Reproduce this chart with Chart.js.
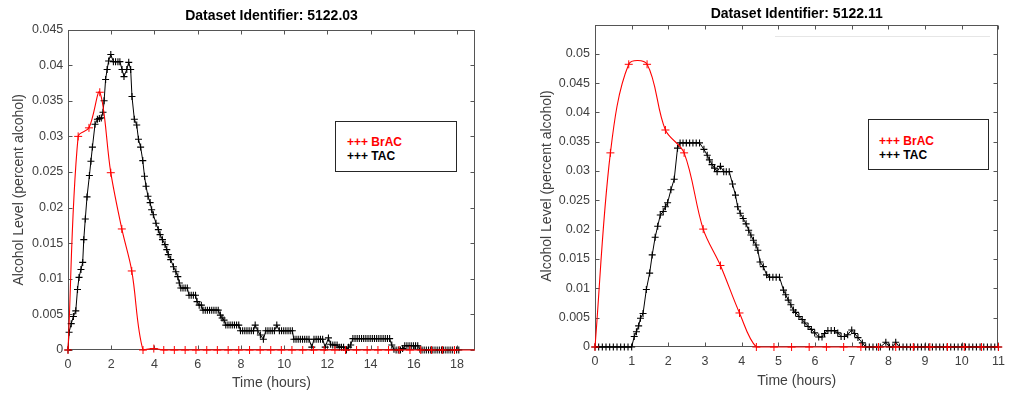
<!DOCTYPE html>
<html><head><meta charset="utf-8">
<script src="https://cdn.jsdelivr.net/npm/chart.js@4/dist/chart.umd.min.js"></script>
<style>
html,body{margin:0;padding:0;background:#fff;}
#wrap{position:relative;width:1012px;height:397px;overflow:hidden;font-family:"Liberation Sans",Arial,sans-serif;}
canvas{position:absolute;top:0;}
#c1{left:0}
#c2{left:506px}
.leg{position:absolute;background:#fff;border:1px solid #262626;box-sizing:border-box;font-weight:bold;font-size:12px;}
.leg div{position:absolute;line-height:14px;white-space:nowrap;}
.faint{position:absolute;left:775px;top:36px;width:215px;height:1px;background:#e6e6e6;}
</style></head>
<body><div id="wrap">
<canvas id="c1" width="506" height="397"></canvas>
<canvas id="c2" width="506" height="397"></canvas>
<div class="faint"></div>
<div class="leg" style="left:335px;top:121px;width:122px;height:51px">
<div style="left:11px;top:13px;color:#ff0000">+++ BrAC</div>
<div style="left:11px;top:27px;color:#000">+++ TAC</div>
</div>
<div class="leg" style="left:868px;top:119px;width:121px;height:51px">
<div style="left:10px;top:14px;color:#ff0000">+++ BrAC</div>
<div style="left:10px;top:28px;color:#000">+++ TAC</div>
</div>
</div>
<script>
// ---------- DATA ----------
const title1 = 'Dataset Identifier: 5122.03';
const title2 = 'Dataset Identifier: 5122.11';
const xLabel = 'Time (hours)';
const yLabel = 'Alcohol Level (percent alcohol)';
const legendNames = ['+++ BrAC', '+++ TAC'];

const xTicks1 = [0,2,4,6,8,10,12,14,16,18];
const yTicks1 = [0,0.005,0.01,0.015,0.02,0.025,0.03,0.035,0.04,0.045];
const xTicks2 = [0,1,2,3,4,5,6,7,8,9,10,11];
const yTicks2 = [0,0.005,0.01,0.015,0.02,0.025,0.03,0.035,0.04,0.045,0.05];

// [time (h), alcohol level]
const bracLeft = [[0,0],[0.47,0.030],[0.97,0.0312],[1.47,0.0362],[1.98,0.0249],[2.49,0.0170],[2.95,0.0111],[3.47,0],[3.97,0.0002],
 [4.43,0],[4.92,0],[5.42,0],[5.92,0],[6.42,0],[6.91,0],[7.41,0],[7.90,0],[8.40,0],[8.89,0],[9.38,0],[9.87,0],[10.36,0],[10.86,0],
 [11.36,0],[11.85,0],[12.35,0],[12.84,0],[13.35,0],[13.84,0],[14.34,0],[14.83,0],[15.32,0],[15.82,0],[16.32,0],[16.82,0],[17.32,0],[17.88,0],[18.83,0]];

const tacLeft = [[0,0],[0.05,0.0025],[0.15,0.0037],[0.25,0.0047],[0.36,0.0055],[0.44,0.0085],[0.51,0.0102],[0.60,0.0113],[0.68,0.0123],
 [0.73,0.0155],[0.80,0.0184],[0.88,0.0215],[0.99,0.0245],[1.06,0.0265],[1.13,0.0285],[1.25,0.0317],[1.36,0.0324],[1.45,0.0325],
 [1.54,0.0326],[1.62,0.0334],[1.67,0.0350],[1.74,0.0380],[1.81,0.0394],[1.88,0.0406],[1.98,0.0415],[2.10,0.0405],[2.20,0.0405],
 [2.31,0.0405],[2.40,0.0405],[2.50,0.0394],[2.59,0.0384],[2.72,0.0394],[2.81,0.0404],[2.90,0.0394],[2.96,0.0356],[3.07,0.0324],
 [3.18,0.0316],[3.26,0.0296],[3.36,0.0285],[3.46,0.0266],[3.54,0.0244],[3.61,0.0230],[3.70,0.0216],[3.80,0.0207],[3.87,0.0197],
 [3.95,0.0190],[4.07,0.0178],[4.18,0.0169],[4.26,0.0162],[4.37,0.0155],[4.49,0.0148],[4.57,0.0141],[4.64,0.0134],[4.75,0.0127],
 [4.88,0.0117],[4.99,0.0110],[5.08,0.0103],[5.15,0.0094],[5.22,0.0087],[5.32,0.0087],[5.42,0.0087],[5.52,0.0087],[5.60,0.0077],
 [5.70,0.0077],[5.80,0.0077],[5.90,0.0077],[5.97,0.0068],[6.07,0.0063],[6.17,0.0063],[6.25,0.0056],[6.35,0.0056],[6.45,0.0056],
 [6.55,0.0056],[6.65,0.0056],[6.75,0.0056],[6.85,0.0056],[6.95,0.0056],[7.05,0.0049],[7.13,0.0045],[7.22,0.0042],[7.30,0.0035],
 [7.40,0.0035],[7.50,0.0035],[7.60,0.0035],[7.70,0.0035],[7.80,0.0035],[7.90,0.0035],[7.98,0.0027],[8.08,0.0027],[8.18,0.0027],
 [8.28,0.0027],[8.38,0.0027],[8.48,0.0027],[8.58,0.0027],[8.66,0.0035],[8.78,0.0027],[8.90,0.0021],[9.04,0.0015],[9.15,0.0027],
 [9.25,0.0027],[9.35,0.0027],[9.45,0.0027],[9.55,0.0027],[9.66,0.0035],[9.78,0.0027],[9.88,0.0027],[9.98,0.0027],[10.08,0.0027],
 [10.18,0.0027],[10.28,0.0027],[10.38,0.0027],[10.45,0.0015],[10.55,0.0015],[10.65,0.0015],[10.75,0.0015],[10.85,0.0015],
 [10.95,0.0015],[11.05,0.0015],[11.15,0.0015],[11.28,0.0004],[11.38,0.0015],[11.48,0.0015],[11.58,0.0015],[11.68,0.0015],
 [11.78,0.0015],[11.90,0.0004],[12.05,0.0017],[12.15,0.0008],[12.25,0.0007],[12.35,0.0007],[12.45,0.0007],[12.55,0.0004],
 [12.65,0.0004],[12.75,0.0004],[12.88,0],[12.98,0.0004],[13.08,0.0007],[13.18,0.0016],[13.28,0.0016],[13.38,0.0016],[13.48,0.0016],
 [13.58,0.0016],[13.68,0.0016],[13.78,0.0016],[13.88,0.0016],[13.98,0.0016],[14.08,0.0016],[14.18,0.0016],[14.28,0.0016],
 [14.38,0.0016],[14.48,0.0016],[14.58,0.0016],[14.68,0.0016],[14.78,0.0016],[14.88,0.0016],[14.98,0.0007],[15.08,0.0001],
 [15.18,0],[15.28,0],[15.38,0],[15.48,0.0002],[15.58,0.0006],[15.68,0.0006],[15.78,0.0006],[15.88,0.0006],[15.98,0.0006],
 [16.08,0.0006],[16.18,0.0006],[16.28,0.0001],[16.38,0],[16.48,0],[16.58,0],[16.68,0],[16.78,0],[16.88,0],[16.98,0],[17.08,0],
 [17.18,0],[17.28,0],[17.38,0],[17.48,0],[17.58,0],[17.68,0],[17.78,0],[17.88,0],[17.98,0],[18.08,0]];

const bracRight = [[0,0],[0.42,0.0331],[0.92,0.0482],[1.42,0.0482],[1.92,0.0370],[2.43,0.0331],[2.95,0.0201],[3.42,0.0139],
 [3.94,0.0058],[4.40,0],[4.88,0],[5.36,0],[5.84,0],[6.31,0],[6.78,0],[7.25,0],[7.73,0],[8.20,0],[8.68,0],[9.13,0],[9.61,0],
 [10.07,0],[10.54,0],[11.0,0]];

const tacRight = [[0,0],[0.1,0],[0.2,0],[0.3,0],[0.4,0],[0.5,0],[0.6,0],[0.7,0],[0.8,0],[0.9,0],[1.0,0],
 [1.07,0.0018],[1.13,0.0026],[1.19,0.0036],[1.24,0.0049],[1.31,0.0057],[1.40,0.0098],[1.49,0.0126],[1.56,0.0157],[1.64,0.0187],
 [1.71,0.0206],[1.78,0.0225],[1.86,0.0231],[1.92,0.0239],[1.98,0.0246],[2.07,0.0268],[2.16,0.0286],[2.25,0.0339],[2.32,0.0348],
 [2.40,0.0348],[2.49,0.0348],[2.58,0.0348],[2.67,0.0348],[2.76,0.0348],[2.85,0.0348],[2.97,0.0337],[3.06,0.0327],[3.12,0.0319],
 [3.19,0.0311],[3.26,0.0305],[3.33,0.0299],[3.42,0.0308],[3.51,0.0299],[3.58,0.0299],[3.66,0.0299],[3.75,0.0278],[3.83,0.0259],
 [3.89,0.0239],[3.96,0.0228],[4.04,0.0219],[4.12,0.0210],[4.19,0.0199],[4.25,0.0191],[4.32,0.0182],[4.39,0.0174],[4.44,0.0165],
 [4.50,0.0145],[4.59,0.0137],[4.68,0.0123],[4.76,0.0119],[4.85,0.0119],[4.94,0.0119],[5.03,0.0119],[5.14,0.0097],[5.20,0.0089],
 [5.27,0.0080],[5.34,0.0072],[5.41,0.0063],[5.47,0.0059],[5.56,0.0052],[5.65,0.0047],[5.72,0.0041],[5.81,0.0035],[5.90,0.0030],
 [5.99,0.0024],[6.10,0.0017],[6.19,0.0017],[6.26,0.0023],[6.35,0.0028],[6.44,0.0028],[6.53,0.0028],[6.62,0.0024],[6.71,0.0018],
 [6.80,0.0018],[6.89,0.0021],[7.00,0.0029],[7.08,0.0023],[7.17,0.0016],[7.29,0.0007],[7.38,0],[7.48,0],[7.58,0],[7.68,0],[7.78,0],
 [7.93,0.0008],[8.03,0],[8.12,0],[8.20,0.0008],[8.30,0],[8.40,0],[8.50,0],[8.60,0],[8.70,0],[8.80,0],[8.90,0],[9.00,0],[9.10,0],
 [9.20,0],[9.30,0],[9.40,0],[9.50,0],[9.60,0],[9.70,0],[9.80,0],[9.90,0],[10.00,0],[10.10,0],[10.20,0],[10.30,0],[10.40,0],
 [10.50,0],[10.60,0],[10.70,0],[10.80,0],[10.90,0],[11.00,0]];

// ---------- CHARTS ----------
Chart.defaults.font.family = '"Liberation Sans", Arial, Helvetica, sans-serif';
const fmt = v => String(+Number(v).toFixed(4));
const AX = '#404040';

const frame = {
  id: 'frame',
  beforeDatasetsDraw(chart) {
    const {ctx, chartArea: a, scales: {x, y}} = chart;
    ctx.save();
    ctx.strokeStyle = '#555';
    ctx.lineWidth = 1;
    const L = Math.round(a.left) + 0.5, R = Math.round(a.right) - 0.5;
    const T = Math.round(a.top) + 0.5, B = Math.round(a.bottom) - 0.5;
    ctx.strokeRect(L, T, R - L, B - T);
    const tl = 4;
    ctx.beginPath();
    x.ticks.forEach(t => {
      const px = Math.round(x.getPixelForValue(t.value)) + 0.5;
      ctx.moveTo(px, B); ctx.lineTo(px, B - tl);
      ctx.moveTo(px, T); ctx.lineTo(px, T + tl);
    });
    y.ticks.forEach(t => {
      const py = Math.round(y.getPixelForValue(t.value)) + 0.5;
      ctx.moveTo(L, py); ctx.lineTo(L + tl, py);
      ctx.moveTo(R, py); ctx.lineTo(R - tl, py);
    });
    ctx.stroke();
    ctx.restore();
  }
};

function makeChart(id, o) {
  const toXY = arr => arr.map(p => ({x: p[0], y: p[1]}));
  const nb = o.brac.length;
  return new Chart(document.getElementById(id), {
    type: 'line',
    data: {
      datasets: [
        {
          label: legendNames[0], data: toXY(o.brac),
          borderColor: '#ff0000', borderWidth: 1.1, tension: 0.35,
          pointStyle: 'cross', pointBorderColor: '#ff0000', pointBorderWidth: 1,
          pointRadius: ctx => (o.hideLastBrac && ctx.dataIndex === nb - 1) ? 0 : 4,
          fill: false, clip: 6
        },
        {
          label: legendNames[1], data: toXY(o.tac),
          borderColor: '#000', borderWidth: 1, tension: 0,
          pointStyle: 'cross', pointBorderColor: '#000', pointBorderWidth: 1.1, pointRadius: 3.5,
          fill: false, clip: 6
        }
      ]
    },
    options: {
      responsive: false, animation: false, events: [],
      devicePixelRatio: 1,
      layout: {padding: {left: 0, right: o.padR, top: 0, bottom: 0}},
      plugins: {
        legend: {display: false}, tooltip: {enabled: false},
        title: {display: true, text: o.title, fullSize: false, color: '#000',
          font: {size: 14, weight: 'bold'}, padding: {top: o.tTop, bottom: o.tBot}}
      },
      scales: {
        x: {
          type: 'linear', min: 0, max: o.xMax,
          afterBuildTicks: s => { s.ticks = o.xt.map(v => ({value: v})); },
          afterFit: s => { s.height = o.xH; },
          grid: {display: false, drawTicks: false}, border: {display: false},
          ticks: {autoSkip: false, maxRotation: 0, minRotation: 0, padding: o.xPad, color: AX,
            font: {size: 12.5}, callback: fmt},
          title: {display: true, text: xLabel, color: AX, font: {size: 14}, padding: {top: 0, bottom: o.xTB}}
        },
        y: {
          type: 'linear', min: 0, max: o.yMax,
          afterBuildTicks: s => { s.ticks = o.yt.map(v => ({value: v})); },
          afterFit: s => { s.width = o.yW; },
          grid: {display: false, drawTicks: false}, border: {display: false},
          ticks: {autoSkip: false, padding: o.yPad, color: AX, font: {size: 12.5}, callback: fmt},
          title: {display: true, text: yLabel, color: AX, font: {size: 14}, padding: {top: o.yTT, bottom: 0}}
        }
      }
    },
    plugins: [frame]
  });
}

makeChart('c1', {
  title: title1, brac: bracLeft, tac: tacLeft, hideLastBrac: true,
  xt: xTicks1, yt: yTicks1, xMax: 18.83, yMax: 0.045,
  padR: 31, tTop: 7.8, tBot: 5, xH: 47, yW: 68, xPad: 7.4, xTB: 5.3, yPad: 4.7, yTT: 10.6
});
makeChart('c2', {
  title: title2, brac: bracRight, tac: tacRight, hideLastBrac: false,
  xt: xTicks2, yt: yTicks2, xMax: 11, yMax: 0.0549,
  padR: 10, tTop: 5.4, tBot: 2.8, xH: 50, yW: 89, xPad: 7.1, xTB: 7.9, yPad: 5, yTT: 33.1
});
</script>
</body></html>
